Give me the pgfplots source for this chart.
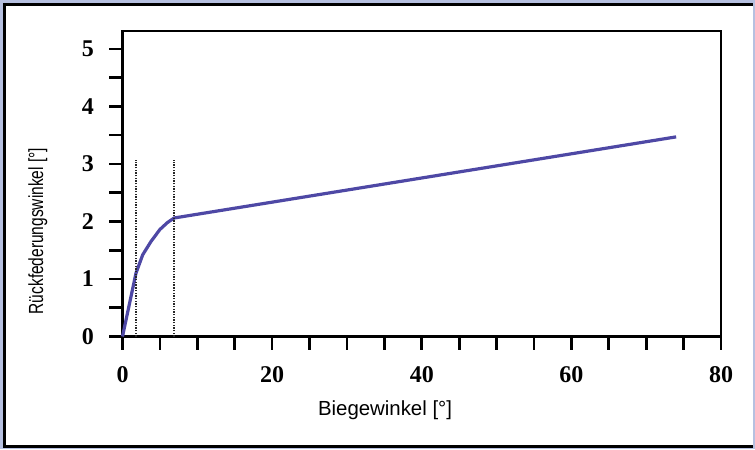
\documentclass[border=0pt]{standalone}
\usepackage{fontspec}
\setmainfont{Liberation Serif}
\newfontfamily\arialfont{Liberation Sans}
\usepackage{pgfplots}
\pgfplotsset{compat=1.18}
\definecolor{bgblue}{RGB}{182,192,224}
\definecolor{curveblue}{RGB}{78,72,165}
\begin{document}
\begin{tikzpicture}
\fill[bgblue] (-91.875pt,-84.375pt) rectangle (474.375pt,252.375pt);
\fill[white] (-88.5pt,-82.5pt) rectangle (472.5pt,249pt);
\draw[black, line width=2.2pt] (472.5pt,249pt) -- (-88.5pt,249pt) -- (-88.5pt,-82.5pt) -- (472.5pt,-82.5pt);
\begin{axis}[
  at={(0,0)}, anchor=south west,
  scale only axis,
  width=448.9pt, height=229.1pt,
  xmin=0, xmax=80, ymin=0, ymax=5.31,
  axis line style={line width=2pt},
  xtick={0,20,40,60,80},
  ytick={0,1,2,3,4,5},
  minor x tick num=3,
  minor y tick num=1,
  tick align=outside,
  xtick pos=bottom, ytick pos=left,
  major tick length=10pt, minor tick length=10pt,
  every tick/.style={line width=2pt, black},
  every minor tick/.style={line width=2pt, black},
  tick label style={font=\fontsize{18}{18}\selectfont\bfseries},
  /pgf/number format/assume math mode=true,
  xticklabel style={yshift=-9pt},
  yticklabel style={xshift=-8pt},
  clip=false,
]
\addplot[curveblue, line width=2.4pt, line join=round] coordinates {
  (0,0) (0.9,0.55) (1.8,1.1) (2.7,1.42) (3.8,1.65) (5,1.86) (6,1.98) (6.9,2.06) (74,3.47)
};
\addplot[black!85, line width=1.5pt, dash pattern=on 1pt off 1pt] coordinates {(1.8,0) (1.8,3.07)};
\addplot[black!85, line width=1.5pt, dash pattern=on 1pt off 1pt] coordinates {(6.9,0) (6.9,3.07)};
\end{axis}
\node[font=\arialfont\fontsize{15.3}{15.3}\selectfont, anchor=center] at (196.9pt,-55.1pt) {Biegewinkel [°]};
\node[font=\arialfont\fontsize{15.3}{15.3}\selectfont, rotate=90, anchor=center] at (-63.4pt,79.1pt) {\scalebox{0.76}[1]{Rückfederungswinkel [°]}};
\pgfresetboundingbox
\path (-91.875pt,-84.375pt) rectangle (474.375pt,252.375pt);
\end{tikzpicture}
\end{document}
